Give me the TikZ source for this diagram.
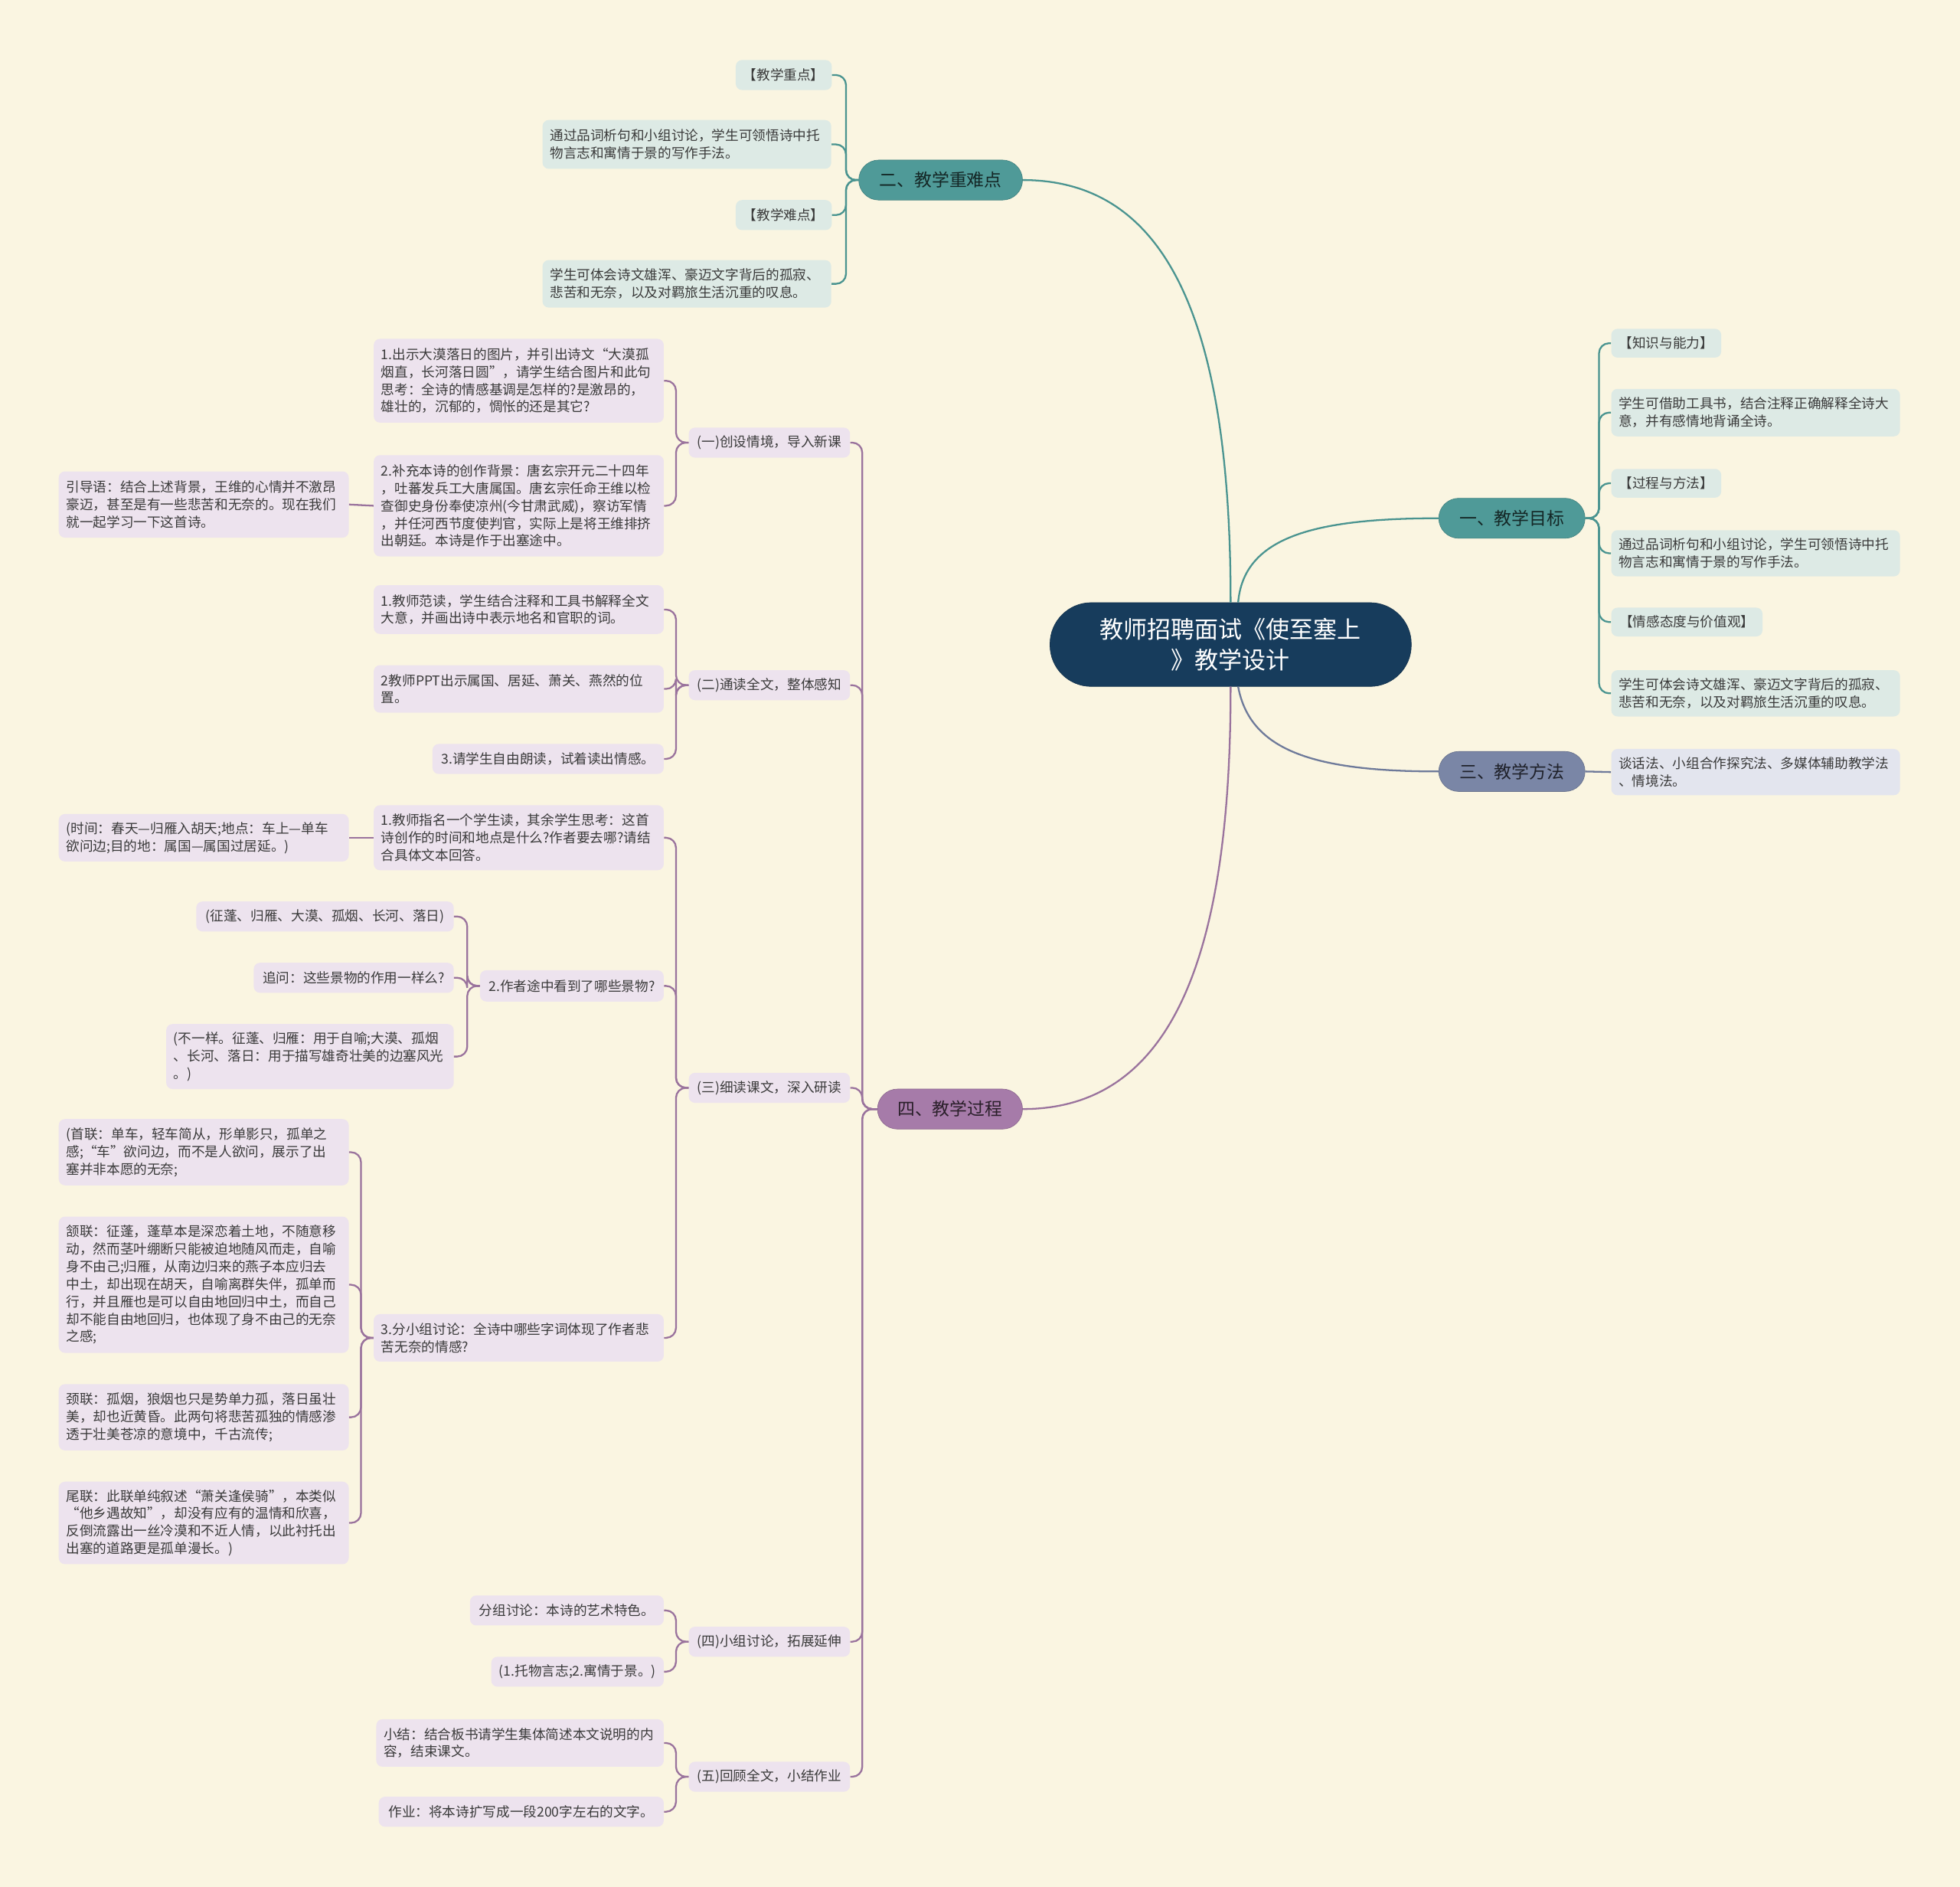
\documentclass[tikz,border=0pt]{standalone}
\usepackage{fontspec}
\setmainfont{Noto Sans CJK SC}
\usetikzlibrary{calc}
\definecolor{bgc}{HTML}{FAF5E1}
\definecolor{rootc}{HTML}{173C5C}
\definecolor{tealc}{HTML}{4F9A98}
\definecolor{slatec}{HTML}{7A86A6}
\definecolor{purpc}{HTML}{A67BA9}
\definecolor{teall}{HTML}{4A9490}
\definecolor{slatel}{HTML}{6E7A9A}
\definecolor{purpl}{HTML}{9A739D}
\definecolor{leaft}{HTML}{DDEAE5}
\definecolor{leafp}{HTML}{EDE3EE}
\definecolor{leafs}{HTML}{E3E5EE}
\definecolor{txt}{HTML}{3A3A3A}
\begin{document}
\begin{tikzpicture}[x=1pt,y=-1pt,
  rootbox/.style={fill=rootc, draw=rootc!85!black, rounded corners=33pt, text=white,
    font=\fontsize{19}{25}\selectfont, align=center, minimum width=289pt, minimum height=67pt, inner sep=0pt},
  mainbox/.style={rounded corners=16pt, font=\fontsize{14}{16}\selectfont, minimum height=32pt, inner sep=0pt},
  leaf/.style={rounded corners=5pt, font=\fontsize{10.8}{14}\selectfont, text=txt, inner xsep=6pt, inner ysep=0pt},
  lt/.style={leaf, fill=leaft},
  lp/.style={leaf, fill=leafp},
  ls/.style={leaf, fill=leafs},
  wh/.style 2 args={text width=#1, minimum height=#2, align=left},
  one/.style 2 args={minimum width=#1, minimum height=#2, align=center},
  ct/.style={draw=teall, line width=1.4pt, rounded corners=8pt},
  cs/.style={draw=slatel, line width=1.4pt, rounded corners=8pt},
  cp/.style={draw=purpl, line width=1.4pt, rounded corners=8pt},
]
\useasboundingbox[fill=bgc] (0,0) rectangle (1568,1509);

% root
\node[rootbox] (root) at (984.5,515.5) {教师招聘面试《使至塞上\\》教学设计};

% main branches
\node[mainbox, fill=tealc, draw=tealc!85!black, text=tealc!25!black, minimum width=131pt] (m2) at (752.5,144) {二、教学重难点};
\node[mainbox, fill=tealc, draw=tealc!85!black, text=tealc!25!black, minimum width=117pt] (m1) at (1209.5,414.5) {一、教学目标};
\node[mainbox, fill=slatec, draw=slatec!85!black, text=slatec!25!black, minimum width=117pt] (m3) at (1209.5,617) {三、教学方法};
\node[mainbox, fill=purpc, draw=purpc!85!black, text=purpc!25!black, minimum width=116pt] (m4) at (760,887) {四、教学过程};

% root connectors
\draw[ct] (root.north) .. controls (984.5,260) and (935,144) .. (m2.east);
\draw[ct] ($(root.north)+(6,0)$) .. controls (995,430) and (1050,414.5) .. (m1.west);
\draw[cs] ($(root.south)+(6,0)$) .. controls (1000,600) and (1050,617) .. (m3.west);
\draw[cp] (root.south) .. controls (984.5,760) and (940,887) .. (m4.east);

% 二 children
\node[lt, one={76pt}{24pt}] (t1) at (627,60) {【教学重点】};
\node[lt, wh={219pt}{39pt}] (t2) at (549.5,115.5) {通过品词析句和小组讨论，学生可领悟诗中托\\物言志和寓情于景的写作手法。};
\node[lt, one={76pt}{24pt}] (t3) at (627,172) {【教学难点】};
\node[lt, wh={219pt}{38pt}] (t4) at (549.5,227) {学生可体会诗文雄浑、豪迈文字背后的孤寂、\\悲苦和无奈，以及对羁旅生活沉重的叹息。};
\foreach \c in {t1,t2,t3,t4} \draw[ct] (m2.west) -- ++(-10,0) |- (\c.east);

% 一 children
\node[lt, one={88pt}{23pt}] (r1) at (1333,274.5) {【知识与能力】};
\node[lt, wh={219pt}{38pt}] (r2) at (1404.5,330) {学生可借助工具书，结合注释正确解释全诗大\\意，并有感情地背诵全诗。};
\node[lt, one={88pt}{23pt}] (r3) at (1333,386.5) {【过程与方法】};
\node[lt, wh={219pt}{37pt}] (r4) at (1404.5,442.5) {通过品词析句和小组讨论，学生可领悟诗中托\\物言志和寓情于景的写作手法。};
\node[lt, one={121pt}{23pt}] (r5) at (1349.5,497.5) {【情感态度与价值观】};
\node[lt, wh={219pt}{37pt}] (r6) at (1404.5,554.5) {学生可体会诗文雄浑、豪迈文字背后的孤寂、\\悲苦和无奈，以及对羁旅生活沉重的叹息。};
\foreach \c in {r1,r2,r3,r4,r5,r6} \draw[ct] (m1.east) -- ++(11,0) |- (\c.west);

% 三 child
\node[ls, wh={219pt}{37pt}] (s1) at (1404.5,617.5) {谈话法、小组合作探究法、多媒体辅助教学法\\、情境法。};
\draw[cs] (m3.east) -- (s1.west);

% 四 children
\node[lp, one={129pt}{24pt}] (a1) at (615.5,354) {(一)创设情境，导入新课};
\node[lp, one={129pt}{24pt}] (a2) at (615.5,548) {(二)通读全文，整体感知};
\node[lp, one={129pt}{24pt}] (a3) at (615.5,870) {(三)细读课文，深入研读};
\node[lp, one={129pt}{24pt}] (a4) at (615.5,1313) {(四)小组讨论，拓展延伸};
\node[lp, one={129pt}{24pt}] (a5) at (615.5,1421) {(五)回顾全文，小结作业};
\foreach \c in {a1,a2,a3,a4,a5} \draw[cp] (m4.west) -- ++(-12,0) |- (\c.east);

% (一)
\node[lp, wh={220pt}{67pt}] (b11) at (415,304.5) {1.出示大漠落日的图片，并引出诗文“大漠孤\\烟直，长河落日圆”，请学生结合图片和此句\\思考：全诗的情感基调是怎样的?是激昂的，\\雄壮的，沉郁的，惆怅的还是其它?};
\node[lp, wh={220pt}{81pt}] (b12) at (415,404.5) {2.补充本诗的创作背景：唐玄宗开元二十四年\\，吐蕃发兵工大唐属国。唐玄宗任命王维以检\\查御史身份奉使凉州(今甘肃武威)，察访军情\\，并任河西节度使判官，实际上是将王维排挤\\出朝廷。本诗是作于出塞途中。};
\node[lp, wh={220pt}{53pt}] (c121) at (163,403.5) {引导语：结合上述背景，王维的心情并不激昂\\豪迈，甚至是有一些悲苦和无奈的。现在我们\\就一起学习一下这首诗。};
\foreach \c in {b11,b12} \draw[cp] (a1.west) -- ++(-10,0) |- (\c.east);
\draw[cp] (b12.west) -- (c121.east);

% (二)
\node[lp, wh={220pt}{39pt}] (b21) at (415,487.5) {1.教师范读，学生结合注释和工具书解释全文\\大意，并画出诗中表示地名和官职的词。};
\node[lp, wh={220pt}{38pt}] (b22) at (415,551) {2教师PPT出示属国、居延、萧关、燕然的位\\置。};
\node[lp, one={185pt}{24pt}] (b23) at (438.5,607) {3.请学生自由朗读，试着读出情感。};
\foreach \c in {b21,b22,b23} \draw[cp] (a2.west) -- ++(-10,0) |- (\c.east);

% (三)
\node[lp, wh={220pt}{52pt}] (b31) at (415,670) {1.教师指名一个学生读，其余学生思考：这首\\诗创作的时间和地点是什么?作者要去哪?请结\\合具体文本回答。};
\node[lp, wh={220pt}{38pt}] (c311) at (163,670) {(时间：春天—归雁入胡天;地点：车上—单车\\欲问边;目的地：属国—属国过居延。)};
\draw[cp] (b31.west) -- (c311.east);
\node[lp, one={147pt}{25pt}] (b32) at (457.5,788.5) {2.作者途中看到了哪些景物?};
\node[lp, one={206pt}{24pt}] (c321) at (260,733) {(征蓬、归雁、大漠、孤烟、长河、落日)};
\node[lp, one={160pt}{24pt}] (c322) at (283,782) {追问：这些景物的作用一样么?};
\node[lp, wh={218pt}{52pt}] (c323) at (248,845) {(不一样。征蓬、归雁：用于自喻;大漠、孤烟\\、长河、落日：用于描写雄奇壮美的边塞风光\\。)};
\foreach \c in {c321,c322,c323} \draw[cp] (b32.west) -- ++(-10,0) |- (\c.east);
\node[lp, wh={220pt}{38pt}] (b33) at (415,1070) {3.分小组讨论：全诗中哪些字词体现了作者悲\\苦无奈的情感?};
\node[lp, wh={220pt}{53pt}] (c331) at (163,921.5) {(首联：单车，轻车简从，形单影只，孤单之\\感;“车”欲问边，而不是人欲问，展示了出\\塞并非本愿的无奈;};
\node[lp, wh={220pt}{109pt}] (c332) at (163,1027.5) {颔联：征蓬，蓬草本是深恋着土地，不随意移\\动，然而茎叶绷断只能被迫地随风而走，自喻\\身不由己;归雁，从南边归来的燕子本应归去\\中土，却出现在胡天，自喻离群失伴，孤单而\\行，并且雁也是可以自由地回归中土，而自己\\却不能自由地回归，也体现了身不由己的无奈\\之感;};
\node[lp, wh={220pt}{53pt}] (c333) at (163,1133.5) {颈联：孤烟，狼烟也只是势单力孤，落日虽壮\\美，却也近黄昏。此两句将悲苦孤独的情感渗\\透于壮美苍凉的意境中，千古流传;};
\node[lp, wh={220pt}{66pt}] (c334) at (163,1218) {尾联：此联单纯叙述“萧关逢侯骑”，本类似\\“他乡遇故知”，却没有应有的温情和欣喜，\\反倒流露出一丝冷漠和不近人情，以此衬托出\\出塞的道路更是孤单漫长。)};
\foreach \c in {c331,c332,c333,c334} \draw[cp] (b33.west) -- ++(-10,0) |- (\c.east);
\foreach \c in {b31,b32,b33} \draw[cp] (a3.west) -- ++(-10,0) |- (\c.east);

% (四)
\node[lp, one={155pt}{24pt}] (b41) at (453.5,1288) {分组讨论：本诗的艺术特色。};
\node[lp, one={138pt}{24pt}] (b42) at (462,1337) {(1.托物言志;2.寓情于景。)};
\foreach \c in {b41,b42} \draw[cp] (a4.west) -- ++(-10,0) |- (\c.east);

% (五)
\node[lp, wh={218pt}{38pt}] (b51) at (416,1394) {小结：结合板书请学生集体简述本文说明的内\\容，结束课文。};
\node[lp, one={228pt}{24pt}] (b52) at (417,1449) {作业：将本诗扩写成一段200字左右的文字。};
\foreach \c in {b51,b52} \draw[cp] (a5.west) -- ++(-10,0) |- (\c.east);
\end{tikzpicture}
\end{document}
